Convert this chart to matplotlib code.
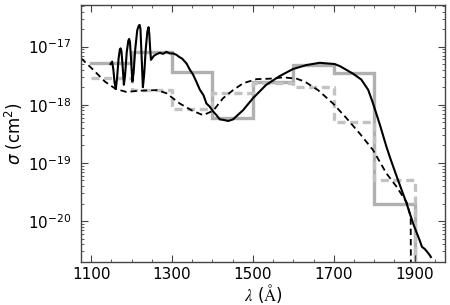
import numpy as np
import matplotlib
matplotlib.use("Agg")
import matplotlib.pyplot as plt
from matplotlib.ticker import MultipleLocator, NullFormatter, FixedLocator

# Solid black curve (wavelength in Angstrom, cross section in cm^2)
solid_lam = [1148, 1152, 1155, 1158, 1161, 1164, 1168, 1171, 1173, 1175, 1178, 1181,
             1184, 1188, 1192, 1194, 1196, 1199, 1202, 1205, 1209, 1214, 1218, 1220,
             1222, 1225, 1228, 1231, 1235, 1239, 1242, 1244, 1246, 1248,
             1255, 1262, 1270, 1278, 1286, 1295, 1303, 1311, 1318, 1325, 1336, 1344,
             1352, 1360, 1369, 1378, 1385, 1393, 1402, 1410, 1418, 1426, 1439, 1451,
             1476, 1500, 1533, 1566, 1599, 1632, 1665, 1702, 1715, 1748, 1768, 1785,
             1797, 1814, 1830, 1841, 1859, 1880, 1896, 1912, 1918, 1925, 1930, 1937, 1940]
solid_sig = [5.0e-18, 5.5e-18, 4.0e-18, 2.4e-18, 1.86e-18, 2.8e-18, 6.3e-18, 8.9e-18,
             9.3e-18, 8.3e-18, 4.5e-18, 2.2e-18, 3.2e-18, 7.9e-18, 1.26e-17, 1.35e-17,
             1.2e-17, 5.6e-18, 2.5e-18, 3.5e-18, 8.9e-18, 1.9e-17, 2.3e-17, 2.35e-17,
             2.0e-17, 6.3e-18, 2.0e-18, 3.2e-18, 8.9e-18, 1.8e-17, 2.15e-17, 1.6e-17,
             8.9e-18, 5.9e-18,
             6.9e-18, 7.4e-18, 7.8e-18, 7.5e-18, 8.1e-18, 7.6e-18, 7.6e-18, 7.2e-18,
             6.6e-18, 6.2e-18, 5.1e-18, 4.0e-18, 3.3e-18, 2.5e-18, 1.8e-18, 1.45e-18,
             1.05e-18, 9.3e-19, 7.6e-19, 6.6e-19, 5.6e-19, 5.5e-19, 5.25e-19, 5.6e-19,
             8.1e-19, 1.29e-18, 2.2e-18, 3.1e-18, 4.1e-18, 4.8e-18, 5.25e-18, 5.0e-18,
             4.6e-18, 3.4e-18, 2.7e-18, 1.8e-18, 1.05e-18, 4.5e-19, 1.9e-19, 1.12e-19,
             5.0e-20, 2.0e-20, 9.1e-21, 4.7e-21, 3.6e-21, 3.3e-21, 3.0e-21, 2.6e-21, 2.4e-21]

# Dashed black curve
dash_lam = [1075, 1105, 1134, 1161, 1187, 1220, 1262, 1286, 1319, 1350, 1377, 1402,
            1426, 1451, 1476, 1509, 1542, 1575, 1608, 1628, 1661, 1698, 1731, 1764,
            1797, 1830, 1855, 1880, 1890, 1892]
dash_sig = [6.3e-18, 4.0e-18, 2.5e-18, 1.86e-18, 1.66e-18, 1.74e-18, 1.78e-18, 1.58e-18,
            1.05e-18, 7.9e-19, 6.6e-19, 7.9e-19, 1.29e-18, 1.78e-18, 2.34e-18, 2.75e-18,
            2.8e-18, 2.95e-18, 2.8e-18, 2.5e-18, 1.78e-18, 1.05e-18, 5.9e-19, 3.2e-19,
            1.66e-19, 6.6e-20, 3.9e-20, 2.1e-20, 1.17e-20, 1e-23]

# Binned values (100 A bins from 1100 to 1900)
bin_edges = [1100, 1200, 1300, 1400, 1500, 1600, 1700, 1800, 1900]
bin_solid = [5.2e-18, 8.1e-18, 3.7e-18, 5.9e-19, 2.45e-18, 4.8e-18, 3.5e-18, 2.0e-20]
bin_dashed = [2.9e-18, 1.8e-18, 8.5e-19, 1.6e-18, 2.4e-18, 2.05e-18, 5.1e-19, 5.0e-20]
floor_val = 1e-23

xticks = [1100, 1300, 1500, 1700, 1900]
yticks = [1e-20, 1e-19, 1e-18, 1e-17]
ytick_labels = [r'$10^{-20}$', r'$10^{-19}$', r'$10^{-18}$', r'$10^{-17}$']

fig = plt.figure(figsize=(4.5, 3.05), dpi=100)
ax = fig.add_axes([0.18, 0.142, 0.809, 0.842])

ax.step(bin_edges, bin_solid + [floor_val], where='post', color='#b0b0b0',
        lw=2.4, solid_joinstyle='miter', zorder=1)
ax.step(bin_edges, bin_dashed + [floor_val], where='post', color='#c2c2c2',
        lw=2.4, linestyle=(0, (2.4, 1.4)), zorder=1.5)
ax.plot(dash_lam, dash_sig, color='black', lw=1.3, linestyle=(0, (3.5, 2.2)), zorder=2)
ax.plot(solid_lam, solid_sig, color='black', lw=1.5, zorder=3)

ax.set_yscale('log')
ax.set_xlim(1075, 1975)
ax.set_ylim(2.0e-21, 5.2e-17)
ax.set_xticks(xticks)
ax.set_xticklabels([str(t) for t in xticks])
ax.xaxis.set_minor_locator(MultipleLocator(50))
ax.set_yticks(yticks)
ax.set_yticklabels(ytick_labels)
minor_y = [m * 10.0**e for e in range(-21, -16) for m in range(2, 10)]
ax.yaxis.set_minor_locator(FixedLocator(minor_y))
ax.yaxis.set_minor_formatter(NullFormatter())

ax.tick_params(which='both', direction='in', top=True, right=True, colors='#444444',
               labelcolor='black', labelsize=11)
ax.tick_params(which='major', length=5, width=0.8)
ax.tick_params(which='minor', length=2.5, width=0.6)
ax.tick_params(axis='y', which='major', pad=7)
for s in ax.spines.values():
    s.set_color('#444444')
    s.set_linewidth(1.0)

ax.set_xlabel(r'$\lambda$ ($\mathrm{\AA}$)', fontsize=12, math_fontfamily='stix', labelpad=0)
ax.set_ylabel(r'$\sigma$ (cm$^2$)', fontsize=12, labelpad=2)

fig.savefig('out.png', dpi=100)
